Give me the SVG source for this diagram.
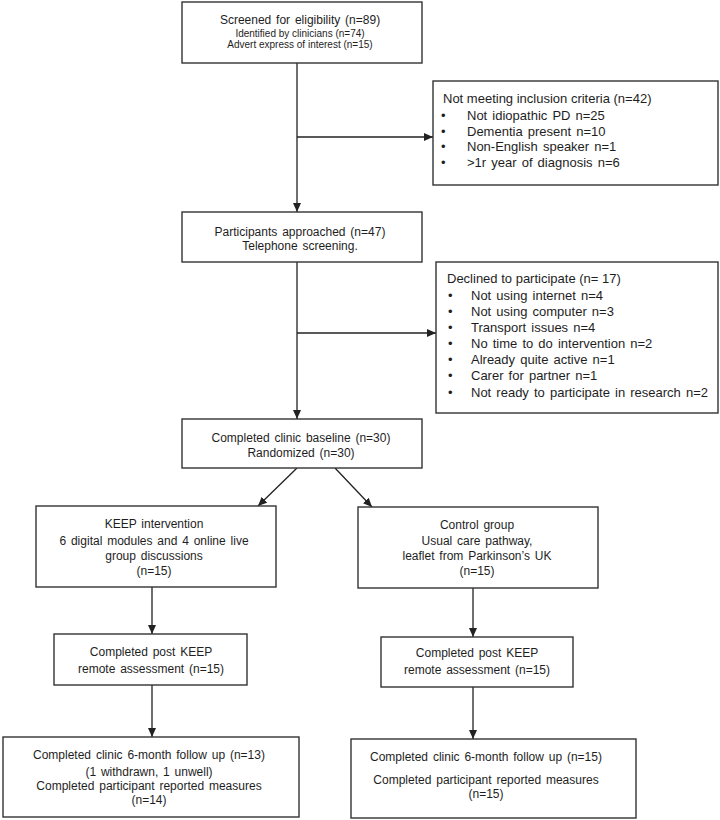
<svg xmlns="http://www.w3.org/2000/svg" width="720" height="820" viewBox="0 0 720 820">
<defs>
<marker id="ah" markerUnits="userSpaceOnUse" markerWidth="9" markerHeight="8" refX="9" refY="4" orient="auto">
<path d="M0,0 L9,4 L0,8 z" fill="#222"/>
</marker>
<style>
rect.box{fill:#fff;stroke:#333;stroke-width:1.4}
text{font-family:"Liberation Sans",Arial,sans-serif;fill:#1e1e1e;font-size:12px}
.c{text-anchor:middle}
.s{font-size:10px}
.l{font-size:13px}
.w{word-spacing:1.5px}
#connectors line{stroke:#222;stroke-width:1.3;fill:none}
</style>
</defs>
<rect width="720" height="820" fill="#fff"/>
<g id="connectors">
<line x1="297" y1="63" x2="297" y2="212" marker-end="url(#ah)"/>
<line x1="297" y1="137" x2="433" y2="137" marker-end="url(#ah)"/>
<line x1="297" y1="262" x2="297" y2="419" marker-end="url(#ah)"/>
<line x1="297" y1="333" x2="436" y2="333" marker-end="url(#ah)"/>
<line x1="297" y1="468" x2="258" y2="506" marker-end="url(#ah)"/>
<line x1="335" y1="468" x2="372" y2="507" marker-end="url(#ah)"/>
<line x1="152" y1="587" x2="152" y2="634" marker-end="url(#ah)"/>
<line x1="152" y1="685" x2="152" y2="737" marker-end="url(#ah)"/>
<line x1="473" y1="588" x2="473" y2="637" marker-end="url(#ah)"/>
<line x1="473" y1="687" x2="473" y2="739" marker-end="url(#ah)"/>
</g>
<g id="screened">
<rect class="box" x="182" y="2" width="240" height="61"/>
<text class="c w" x="300" y="24">Screened for eligibility  (n=89)</text>
<text class="c s" x="300" y="36.5">Identified by clinicians (n=74)</text>
<text class="c s" x="300" y="48">Advert express of interest (n=15)</text>
</g>
<g id="not-meeting">
<rect class="box" x="433" y="81" width="285" height="104"/>
<text class="l" x="443" y="102.5">Not meeting inclusion criteria (n=42)</text>
<text class="l" x="441" y="119.5">•</text><text class="l w" x="467" y="119.5">Not idiopathic PD n=25</text>
<text class="l" x="441" y="135.5">•</text><text class="l w" x="467" y="135.5">Dementia present n=10</text>
<text class="l" x="441" y="151">•</text><text class="l w" x="467" y="151">Non-English speaker n=1</text>
<text class="l" x="441" y="166.5">•</text><text class="l w" x="467" y="166.5">&gt;1r year of diagnosis n=6</text>
</g>
<g id="approached">
<rect class="box" x="182" y="212" width="240" height="50"/>
<text class="c w" x="300" y="236">Participants approached (n=47)</text>
<text class="c w" x="300" y="249.5">Telephone screening.</text>
</g>
<g id="declined">
<rect class="box" x="436" y="262" width="282" height="151"/>
<text class="l" x="447" y="282.5">Declined to participate (n= 17)</text>
<text class="l" x="448" y="299.5">•</text><text class="l w" x="471" y="299.5">Not using internet n=4</text>
<text class="l" x="448" y="316">•</text><text class="l w" x="471" y="316">Not using computer n=3</text>
<text class="l" x="448" y="332">•</text><text class="l w" x="471" y="332">Transport issues n=4</text>
<text class="l" x="448" y="347.5">•</text><text class="l w" x="471" y="347.5">No time to do intervention n=2</text>
<text class="l" x="448" y="363.5">•</text><text class="l w" x="471" y="363.5">Already quite active n=1</text>
<text class="l" x="448" y="380">•</text><text class="l w" x="471" y="380">Carer for partner n=1</text>
<text class="l" x="448" y="396.5">•</text><text class="l w" x="471" y="396.5">Not ready to participate in research n=2</text>
</g>
<g id="baseline">
<rect class="box" x="182" y="419" width="240" height="49"/>
<text class="c w" x="301" y="442">Completed clinic baseline (n=30)</text>
<text class="c w" x="301" y="457">Randomized (n=30)</text>
</g>
<g id="keep">
<rect class="box" x="36" y="506" width="240" height="81"/>
<text class="c w" x="154" y="528">KEEP intervention</text>
<text class="c w" x="154" y="545">6 digital modules and 4 online live</text>
<text class="c w" x="154" y="559.5">group discussions</text>
<text class="c" x="154" y="575">(n=15)</text>
</g>
<g id="control">
<rect class="box" x="358" y="507" width="240" height="81"/>
<text class="c w" x="477" y="529">Control group</text>
<text class="c w" x="477" y="545">Usual care pathway,</text>
<text class="c w" x="477" y="560">leaflet from Parkinson’s UK</text>
<text class="c" x="477" y="575">(n=15)</text>
</g>
<g id="post-keep-left">
<rect class="box" x="54" y="634" width="193" height="51"/>
<text class="c w" x="151" y="656">Completed post KEEP</text>
<text class="c w" x="151" y="673">remote assessment (n=15)</text>
</g>
<g id="post-keep-right">
<rect class="box" x="381" y="637" width="192" height="50"/>
<text class="c w" x="477" y="657">Completed post KEEP</text>
<text class="c w" x="477" y="674">remote assessment (n=15)</text>
</g>
<g id="followup-left">
<rect class="box" x="3" y="737" width="296" height="80"/>
<text class="c w" x="149" y="759">Completed clinic 6-month follow up (n=13)</text>
<text class="c w" x="149" y="776">(1 withdrawn, 1 unwell)</text>
<text class="c w" x="149" y="790">Completed participant reported measures</text>
<text class="c" x="149" y="804">(n=14)</text>
</g>
<g id="followup-right">
<rect class="box" x="351" y="739" width="285" height="79"/>
<text class="c w" x="486" y="761">Completed clinic 6-month follow up (n=15)</text>
<text class="c w" x="486" y="784">Completed participant reported measures</text>
<text class="c" x="486" y="798">(n=15)</text>
</g>
</svg>
